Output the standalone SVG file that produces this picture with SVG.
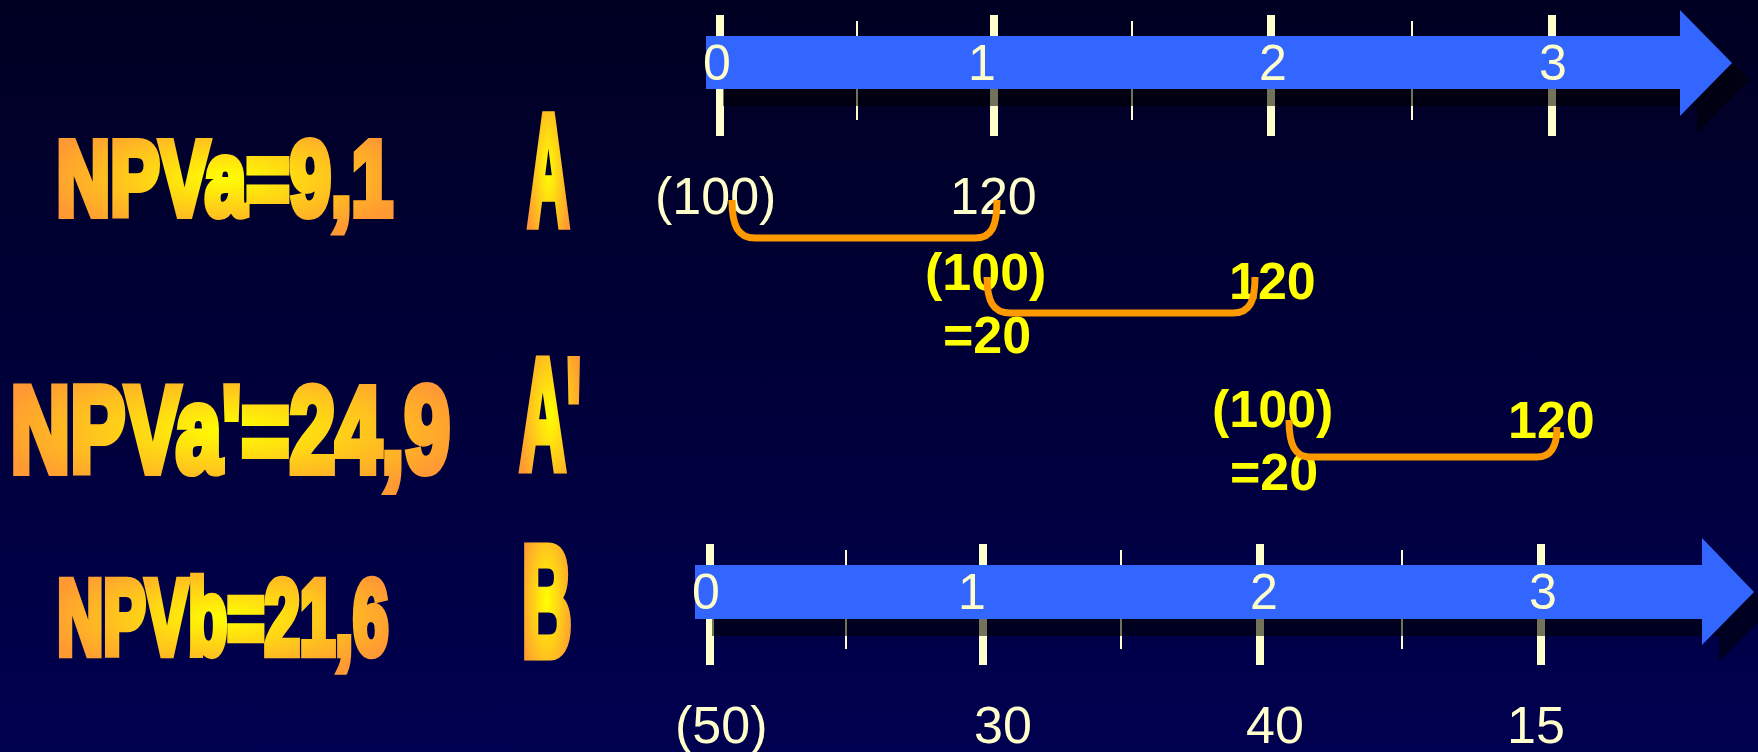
<svg xmlns="http://www.w3.org/2000/svg" width="1758" height="752" viewBox="0 0 1758 752">
<defs>
<linearGradient id="bg" x1="0" y1="0" x2="0" y2="1">
<stop offset="0" stop-color="#000022"/>
<stop offset="1" stop-color="#000050"/>
</linearGradient>
<radialGradient id="gold" cx="0.5" cy="0.5" r="0.55">
<stop offset="0" stop-color="#FFFF00"/>
<stop offset="1" stop-color="#FF9933"/>
</radialGradient>
<style>
.big{font-family:"Liberation Sans",Arial,sans-serif;font-weight:bold;fill:url(#gold);stroke:url(#gold);stroke-width:7;stroke-linejoin:miter;vector-effect:non-scaling-stroke}
.ax{font-family:"Liberation Sans",Arial,sans-serif;font-size:50px;fill:#FFFFCC;text-anchor:middle}
.wl{font-family:"Liberation Sans",Arial,sans-serif;font-size:52px;fill:#FFFFCC}
.yl{font-family:"Liberation Sans",Arial,sans-serif;font-size:52px;font-weight:bold;fill:#FFFF00}
.tk{stroke:#FFFFCC;stroke-width:8}
.mt{stroke:#FFFFCC;stroke-width:2}
.shadow{fill:#000000;fill-opacity:0.55}
.body{fill:#3366FF}
.br{fill:none;stroke:#FF9900;stroke-width:7}
</style>
</defs>
<rect x="0" y="0" width="1758" height="752" fill="url(#bg)"/>

<g id="labels-left">
<text class="big" font-size="106" transform="translate(56.6,214.5) scale(0.70,1)">NPVa=9,1</text>
<text class="big" font-size="122" transform="translate(10.5,471.5) scale(0.677,1)">NPVa'=24,9</text>
<text class="big" font-size="106" transform="translate(57.3,653.5) scale(0.601,1)">NPVb=21,6</text>
<text class="big" font-size="158" transform="translate(527.5,224.5) scale(0.368,1)">A</text>
<text class="big" font-size="158" transform="translate(519.5,468.5) scale(0.408,1)">A'</text>
<text class="big" font-size="158" transform="translate(521.4,655.5) scale(0.443,1)">B</text>
</g>

<g id="timeline-top">
<line class="tk" x1="720" y1="15" x2="720" y2="136"/>
<line class="tk" x1="994" y1="15" x2="994" y2="136"/>
<line class="tk" x1="1271" y1="15" x2="1271" y2="136"/>
<line class="tk" x1="1552" y1="15" x2="1552" y2="136"/>
<line class="mt" x1="857" y1="21" x2="857" y2="120"/>
<line class="mt" x1="1132" y1="21" x2="1132" y2="120"/>
<line class="mt" x1="1412" y1="21" x2="1412" y2="120"/>
<polygon class="shadow" points="723,53 1697,53 1697,27 1749,80 1697,133 1697,106 723,106"/>
<polygon class="body" points="706,36 1680,36 1680,10 1732,63 1680,116 1680,89 706,89"/>
<text class="ax" x="717" y="80">0</text>
<text class="ax" x="982" y="80">1</text>
<text class="ax" x="1273" y="80">2</text>
<text class="ax" x="1553" y="80">3</text>
</g>

<g id="timeline-bottom">
<line class="tk" x1="710" y1="544" x2="710" y2="665"/>
<line class="tk" x1="983" y1="544" x2="983" y2="665"/>
<line class="tk" x1="1260" y1="544" x2="1260" y2="665"/>
<line class="tk" x1="1541" y1="544" x2="1541" y2="665"/>
<line class="mt" x1="846" y1="550" x2="846" y2="649"/>
<line class="mt" x1="1121" y1="550" x2="1121" y2="649"/>
<line class="mt" x1="1402" y1="550" x2="1402" y2="649"/>
<polygon class="shadow" points="712,582 1719,582 1719,555 1771,609 1719,662 1719,636 712,636"/>
<polygon class="body" points="695,565 1702,565 1702,538 1754,592 1702,645 1702,619 695,619"/>
<text class="ax" x="706" y="609">0</text>
<text class="ax" x="972" y="609">1</text>
<text class="ax" x="1264" y="609">2</text>
<text class="ax" x="1543" y="609">3</text>
</g>

<g id="cashflows-A">
<text class="wl" x="655" y="214">(100)</text>
<text class="wl" x="950" y="214">120</text>
</g>
<g id="cashflows-A2-1">
<text class="yl" x="925" y="290">(100)</text>
<text class="yl" x="1229" y="299">120</text>
<text class="yl" x="943" y="353">=20</text>
</g>
<g id="cashflows-A2-2">
<text class="yl" x="1212" y="427">(100)</text>
<text class="yl" x="1508" y="438">120</text>
<text class="yl" x="1230" y="490">=20</text>
</g>
<g id="cashflows-B">
<text class="wl" x="675" y="743">(50)</text>
<text class="wl" x="974" y="743">30</text>
<text class="wl" x="1246" y="743">40</text>
<text class="wl" x="1507" y="743">15</text>
</g>

<g id="connectors">
<path class="br" d="M732,200 C732,226 738,238 755,238 L975,238 C992,238 997,226 997,200"/>
<path class="br" d="M987,277 C987,301 993,313 1010,313 L1233,313 C1250,313 1255,301 1255,277"/>
<path class="br" d="M1289,420 C1289,445 1295,457 1310,457 L1537,457 C1552,457 1557,445 1557,427"/>
</g>
</svg>
